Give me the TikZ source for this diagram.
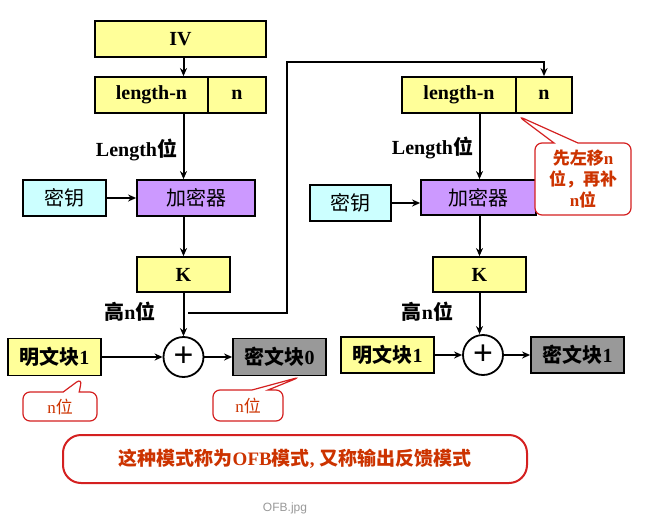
\documentclass[tikz,border=0pt]{standalone}
\usepackage{fontspec}
\setmainfont{Liberation Serif}
\newfontfamily\cjk{Noto Sans CJK SC}
\newfontfamily\capfont{Liberation Sans}
\newcommand\zh[1]{{\cjk #1}}
\usetikzlibrary{shapes.callouts,arrows.meta}
\definecolor{ivyellow}{HTML}{FFFF99}
\definecolor{keycyan}{HTML}{CCFFFF}
\definecolor{encpurple}{HTML}{CC99FF}
\definecolor{ctgray}{HTML}{999999}
\definecolor{notered}{HTML}{D42020}
\definecolor{notetext}{HTML}{CC3300}
\tikzset{
  box/.style={draw,line width=1.8pt,minimum height=36pt,inner sep=0pt,
    font=\fontsize{20}{22}\selectfont\bfseries},
  lab/.style={inner sep=0pt,font=\fontsize{20}{22}\selectfont\bfseries},
  xor/.style={draw,circle,line width=1.8pt,minimum size=40pt,inner sep=0pt,
    font=\capfont\fontsize{34}{34}\selectfont},
  note/.style={rectangle callout,draw=notered,fill=white,line width=1.2pt,
    rounded corners=7pt,inner sep=0pt,text=notetext,align=center,
    font=\fontsize{17}{21}\selectfont}
}
\begin{document}
\begin{tikzpicture}[x=1pt,y=-1pt,>={Stealth[length=8pt,width=7pt]},line width=2pt]
\useasboundingbox (0,0) rectangle (659,522);
% left stage
\node[box,fill=ivyellow,minimum width=171pt] (iv) at (180.5,39) {IV};
\node[box,fill=ivyellow,minimum width=113pt] (lenA) at (151.5,95) {length-n};
\node[box,fill=ivyellow,minimum width=58pt] (nA) at (237,95) {n};
\node[box,fill=keycyan,minimum width=83pt,font=\fontsize{20}{22}\selectfont] (keyA) at (64.5,198) {\zh{密钥}};
\node[box,fill=encpurple,minimum width=118pt,font=\fontsize{20}{22}\selectfont] (encA) at (196,198) {\zh{加密器}};
\node[box,fill=ivyellow,minimum width=93pt,minimum height=35pt] (kA) at (183.5,274.5) {K};
\node[xor] (xorA) at (183.5,357) {+};
\node[box,fill=ivyellow,minimum width=93pt,minimum height=37pt] (ptA) at (54.5,357) {\zh{明文块}1};
\node[box,fill=ctgray,minimum width=93pt,minimum height=37pt] (ctA) at (279.5,357) {\zh{密文块}0};
\node[lab] (lenlabA) at (136.5,150) {Length\zh{位}};
\node[lab] (hiA) at (130,312) {\zh{高}n\zh{位}};
% right stage
\node[box,fill=ivyellow,minimum width=114pt] (lenB) at (459,95) {length-n};
\node[box,fill=ivyellow,minimum width=56pt] (nB) at (544,95) {n};
\node[box,fill=keycyan,minimum width=81pt,font=\fontsize{20}{22}\selectfont] (keyB) at (350.5,203) {\zh{密钥}};
\node[box,fill=encpurple,minimum width=115pt,minimum height=35pt,font=\fontsize{20}{22}\selectfont] (encB) at (478.5,197.5) {\zh{加密器}};
\node[box,fill=ivyellow,minimum width=93pt,minimum height=35pt] (kB) at (479.5,274.5) {K};
\node[xor] (xorB) at (483,355) {+};
\node[box,fill=ivyellow,minimum width=93pt] (ptB) at (387.5,355) {\zh{明文块}1};
\node[box,fill=ctgray,minimum width=93pt] (ctB) at (577.5,355) {\zh{密文块}1};
\node[lab] (lenlabB) at (432.5,148) {Length\zh{位}};
\node[lab] (hiB) at (427.5,312) {\zh{高}n\zh{位}};
% connectors
\draw[->] (iv.south -| kA) -- (lenA.north -| kA);
\draw[->] (lenA.south -| kA) -- (encA.north -| kA);
\draw[->] (keyA) -- (encA);
\draw[->] (encA.south -| kA) -- (kA);
\draw[->] (kA) -- (xorA);
\draw[->] (ptA) -- (xorA);
\draw[->] (xorA) -- (ctA);
\draw[->] (lenB.south -| kB) -- (encB.north -| kB);
\draw[->] (keyB.east) -- (keyB.east -| encB.west);
\draw[->] (encB.south -| kB) -- (kB);
\draw[->] (kB.south) -- (kB.south |- xorB.north);
\draw[->] (ptB) -- (xorB);
\draw[->] (xorB) -- (ctB);
% feedback of the high n bits
\coordinate (tapA) at (188,313);
\coordinate (fbA) at (287,62);
\draw[->] (tapA) -| (fbA) -| (nB.north);
% notes
\node[note,font=\fontsize{17}{21}\selectfont\bfseries,minimum width=96pt,minimum height=72pt,
  callout pointer width=24pt,callout absolute pointer={(518,116)}] (shift) at (583,179)
  {\zh{先左移}n\\\zh{位，再补}\\n\zh{位}};
\node[note,minimum width=74pt,minimum height=29pt,callout pointer width=16pt,
  callout absolute pointer={(82,378)}] (nbitA) at (60,406.5) {n\zh{位}};
\node[note,minimum width=70pt,minimum height=31pt,callout pointer width=16pt,
  callout absolute pointer={(300,377)}] (nbitB) at (248,405.5) {n\zh{位}};
\node[draw=notered,line width=2pt,rounded corners=18pt,minimum width=464pt,minimum height=48pt,
  text=notetext,font=\fontsize{19}{22}\selectfont\bfseries] (mode) at (295,459)
  {\zh{这种模式称为}OFB\zh{模式}, \zh{又称输出反馈模式}};
\node[text=ctgray,font=\capfont\fontsize{12}{14}\selectfont] (cap) at (285,508) {OFB.jpg};
\end{tikzpicture}
\end{document}
